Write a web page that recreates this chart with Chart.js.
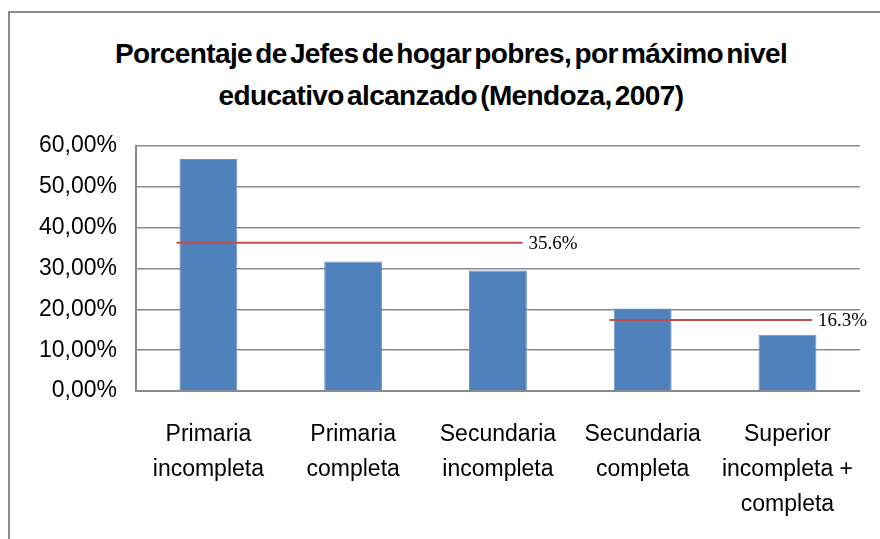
<!DOCTYPE html>
<html>
<head>
<meta charset="utf-8">
<script src="https://cdn.jsdelivr.net/npm/chart.js@4.4.1/dist/chart.umd.min.js"></script>
<style>
  html, body { margin: 0; padding: 0; background: #fff; }
  #frame {
    position: absolute; left: 8px; top: 11px; width: 900px; height: 560px;
    border-left: 2px solid #8c8c8c; border-top: 2px solid #8c8c8c;
  }
  #title {
    position: absolute; left: 0; top: 33px; width: 902px; text-align: center;
    font: bold 28px "Liberation Sans", Arial, sans-serif;
    letter-spacing: -0.6px; word-spacing: -4px; line-height: 42px; color: #000;
  }
  #wrap { position: absolute; left: 0; top: 0; width: 880px; height: 539px; }
</style>
</head>
<body>
<div id="frame"></div>
<div id="title">Porcentaje de Jefes de hogar pobres, por máximo nivel<br>educativo alcanzado (Mendoza, 2007)</div>
<div id="wrap"><canvas id="chart"></canvas></div>
<script>
// categorias (en varias lineas, como en el original)
const categories = [
  ['Primaria', 'incompleta'],
  ['Primaria', 'completa'],
  ['Secundaria', 'incompleta'],
  ['Secundaria', 'completa'],
  ['Superior', 'incompleta +', 'completa'],
];
// porcentaje de jefes de hogar pobres
const values = [56.8, 31.7, 29.5, 20.2, 13.8];
// lineas de promedio: nivel, desde / hasta (en unidades de categoria), etiqueta
const avgLevels = [36.3, 17.4];
const avgFrom = [-0.22, 2.77];
const avgTo = [2.17, 4.17];
const avgLabels = ['35.6%', '16.3%'];
const yTicks = [0, 10, 20, 30, 40, 50, 60];

const GRID = '#8a8a8a';
const RED = '#C0504D';

// etiquetas de los promedios al final de cada linea
const avgLabelPlugin = {
  id: 'avgLabel',
  afterDatasetsDraw(chart) {
    const ctx = chart.ctx;
    const xs = chart.scales.xl;
    const ys = chart.scales.y;
    ctx.save();
    ctx.font = '19px "Liberation Serif", "Times New Roman", serif';
    ctx.fillStyle = '#000';
    ctx.textAlign = 'left';
    ctx.textBaseline = 'middle';
    avgLabels.forEach((txt, i) => {
      ctx.fillText(txt, xs.getPixelForValue(avgTo[i]) + 6, ys.getPixelForValue(avgLevels[i]) + 1);
    });
    ctx.restore();
  },
};

const avgDatasets = avgLevels.map((lvl, i) => ({
  type: 'line',
  xAxisID: 'xl',
  data: [{ x: avgFrom[i], y: lvl }, { x: avgTo[i], y: lvl }],
  borderColor: RED,
  borderWidth: 2,
  pointRadius: 0,
  order: 0,
}));

Chart.defaults.font.family = '"Liberation Sans", Arial, sans-serif';
Chart.defaults.color = '#000';

new Chart(document.getElementById('chart'), {
  type: 'bar',
  data: {
    labels: categories,
    datasets: [
      {
        data: values,
        backgroundColor: '#4F81BD',
        borderColor: '#6a95c9',
        borderWidth: 1,
        barPercentage: 0.4,
        categoryPercentage: 1,
        grouped: false,
        order: 1,
      },
      ...avgDatasets,
    ],
  },
  options: {
    responsive: true,
    maintainAspectRatio: false,
    animation: false,
    layout: { padding: { top: 146, right: 10, left: 0, bottom: 0 } },
    plugins: {
      legend: { display: false },
      title: { display: false },
      tooltip: { enabled: false },
    },
    scales: {
      x: {
        offset: true,
        grid: { display: false, drawTicks: false },
        border: { color: GRID, width: 2 },
        ticks: {
          font: { size: 23, lineHeight: 1.52 },
          padding: 26,
          maxRotation: 0,
          autoSkip: false,
        },
        afterFit(scale) { scale.height = 148; },
      },
      xl: {
        type: 'linear',
        display: false,
        min: -0.5,
        max: 4.5,
        offset: false,
      },
      y: {
        min: 0,
        max: 60,
        afterBuildTicks(scale) { scale.ticks = yTicks.map((v) => ({ value: v })); },
        grid: { color: GRID, lineWidth: 1.5, drawTicks: false },
        border: { color: GRID, width: 2 },
        ticks: {
          font: { size: 23 },
          padding: 19,
          callback: (v) => v.toFixed(2).replace('.', ',') + '%',
        },
        afterFit(scale) { scale.width = 136; },
      },
    },
  },
  plugins: [avgLabelPlugin],
});
</script>
</body>
</html>
